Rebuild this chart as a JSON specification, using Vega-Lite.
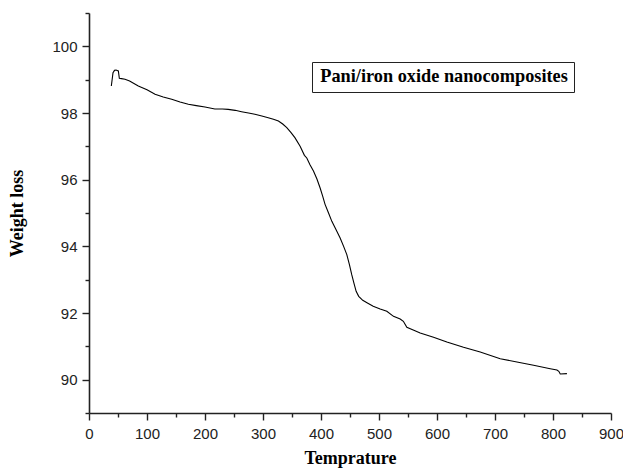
{
  "$schema": "https://vega.github.io/schema/vega-lite/v6.json",
  "width": 522,
  "height": 400,
  "autosize": "none",
  "padding": {"left": 89, "top": 13, "right": 12, "bottom": 57},
  "background": "white",
  "config": {
    "view": {"stroke": null},
    "axis": {
      "grid": false,
      "domainColor": "#222",
      "domainWidth": 1.6,
      "tickColor": "#222",
      "tickWidth": 1.4,
      "labelFont": "Liberation Sans",
      "labelFontSize": 15,
      "labelColor": "#222",
      "titleFont": "Liberation Serif",
      "titleFontSize": 18,
      "titleFontWeight": "bold",
      "titleColor": "black"
    }
  },
  "data": {
    "values": [
      {"t": 38.5, "w": 98.81}, {"t": 41.4, "w": 99.21}, {"t": 44, "w": 99.28}, {"t": 46.6, "w": 99.29},
      {"t": 50.6, "w": 99.26}, {"t": 52.3, "w": 99.04}, {"t": 56, "w": 99.03}, {"t": 62.1, "w": 99.01},
      {"t": 70, "w": 98.96}, {"t": 85, "w": 98.81}, {"t": 100, "w": 98.7}, {"t": 113.9, "w": 98.56},
      {"t": 128, "w": 98.48}, {"t": 142.6, "w": 98.41}, {"t": 157, "w": 98.33}, {"t": 171.3, "w": 98.26},
      {"t": 185, "w": 98.22}, {"t": 200, "w": 98.18}, {"t": 217, "w": 98.12}, {"t": 230, "w": 98.12},
      {"t": 240, "w": 98.11}, {"t": 252, "w": 98.08}, {"t": 263, "w": 98.04}, {"t": 275, "w": 98.0},
      {"t": 286, "w": 97.96}, {"t": 298, "w": 97.91}, {"t": 309, "w": 97.86}, {"t": 318, "w": 97.81},
      {"t": 326.6, "w": 97.76}, {"t": 334, "w": 97.67}, {"t": 341, "w": 97.56}, {"t": 348, "w": 97.42},
      {"t": 355, "w": 97.26}, {"t": 364, "w": 97.0}, {"t": 371.4, "w": 96.73}, {"t": 375.5, "w": 96.65},
      {"t": 381, "w": 96.45}, {"t": 387, "w": 96.26}, {"t": 393, "w": 96.02}, {"t": 398.5, "w": 95.75},
      {"t": 403, "w": 95.5}, {"t": 407, "w": 95.26}, {"t": 413, "w": 95.0}, {"t": 418.7, "w": 94.75},
      {"t": 426, "w": 94.5}, {"t": 433, "w": 94.25}, {"t": 439, "w": 94.0}, {"t": 444.5, "w": 93.75},
      {"t": 449, "w": 93.45}, {"t": 453, "w": 93.15}, {"t": 457, "w": 92.88}, {"t": 460.6, "w": 92.65},
      {"t": 465, "w": 92.5}, {"t": 472, "w": 92.38}, {"t": 480, "w": 92.3}, {"t": 490, "w": 92.2},
      {"t": 502, "w": 92.12}, {"t": 513.5, "w": 92.05}, {"t": 525, "w": 91.9}, {"t": 536.5, "w": 91.82},
      {"t": 542, "w": 91.75}, {"t": 548, "w": 91.57}, {"t": 560, "w": 91.48}, {"t": 571, "w": 91.4},
      {"t": 594, "w": 91.27}, {"t": 617, "w": 91.13}, {"t": 645.7, "w": 90.97}, {"t": 674.5, "w": 90.83},
      {"t": 709, "w": 90.63}, {"t": 737.8, "w": 90.53}, {"t": 766.5, "w": 90.43}, {"t": 795.2, "w": 90.33},
      {"t": 806.8, "w": 90.29}, {"t": 810, "w": 90.25}, {"t": 812.5, "w": 90.17}, {"t": 824, "w": 90.18}
    ]
  },
  "mark": {"type": "line", "strokeWidth": 1.1, "interpolate": "linear"},
  "encoding": {
    "x": {
      "field": "t",
      "type": "quantitative",
      "scale": {"domain": [0, 900], "nice": false, "zero": false},
      "axis": {
        "title": "Temprature",
        "values": [0, 50, 100, 150, 200, 250, 300, 350, 400, 450, 500, 550, 600, 650, 700, 750, 800, 850, 900],
        "labelExpr": "datum.value % 100 === 0 ? datum.label : ''",
        "tickSize": {"condition": {"test": "datum.value % 100 !== 0", "value": 4}, "value": 7},
        "labelPadding": 6,
        "titlePadding": 8,
        "labelFlush": false,
        "labelOverlap": false
      }
    },
    "y": {
      "field": "w",
      "type": "quantitative",
      "scale": {"domain": [89, 101], "nice": false, "zero": false},
      "axis": {
        "title": "Weight loss",
        "values": [89, 90, 91, 92, 93, 94, 95, 96, 97, 98, 99, 100, 101],
        "labelExpr": "datum.value % 2 === 0 ? datum.label : ''",
        "tickSize": {"condition": {"test": "datum.value % 2 !== 0", "value": 4}, "value": 7},
        "labelPadding": 5,
        "titlePadding": 25,
        "labelFlush": false,
        "labelOverlap": false
      }
    },
    "color": {
      "datum": "Pani/iron oxide nanocomposites",
      "type": "nominal",
      "scale": {"range": ["black"]},
      "legend": {
        "title": null,
        "orient": "none",
        "legendX": 223,
        "legendY": 49,
        "symbolType": "circle",
        "symbolSize": 0,
        "symbolOpacity": 0,
        "symbolStrokeWidth": 0,
        "labelOffset": 0,
        "labelFont": "Liberation Serif",
        "labelFontSize": 18.3,
        "labelFontWeight": "bold",
        "labelColor": "black",
        "labelLimit": 400,
        "labelExpr": "datum.label + '\u00a0'",
        "strokeColor": "#222",
        "padding": 6,
        "fillColor": "white",
        "encode": {
          "symbols": {"update": {"opacity": {"value": 0}, "strokeOpacity": {"value": 0}, "fillOpacity": {"value": 0}, "size": {"value": 0}, "strokeWidth": {"value": 0}}},
          "labels": {"update": {"dx": {"value": -16}}}
        }
      }
    }
  }
}
